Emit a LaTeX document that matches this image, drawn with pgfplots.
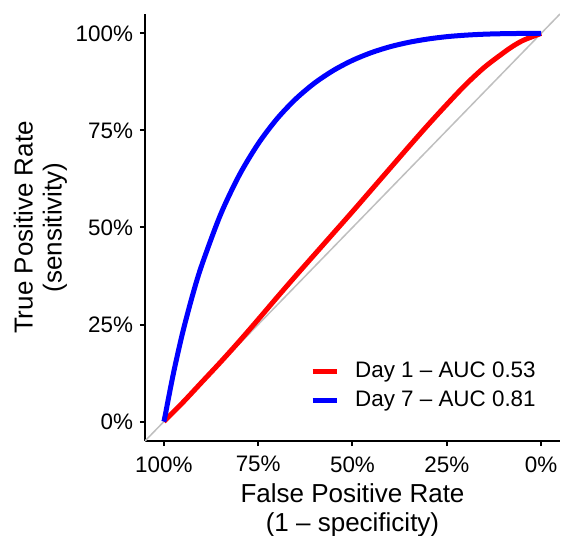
\documentclass[border=0pt]{standalone}
\usepackage{fontspec}
\setmainfont{Liberation Sans}
\usepackage{pgfplots}
\pgfplotsset{compat=1.18}
\begin{document}
\begin{tikzpicture}
\begin{axis}[
  name=ax,
  scale only axis, width=207.5bp, height=213.5bp,
  x dir=reverse,
  xmin=-0.05, xmax=1.05, ymin=-0.05, ymax=1.05,
  axis lines*=left,
  axis line style={black, line width=1bp, -},
  xtick={0,0.25,0.5,0.75,1}, xticklabels={0\%,25\%,50\%,75\%,100\%},
  ytick={0,0.25,0.5,0.75,1}, yticklabels={0\%,25\%,50\%,75\%,100\%},
  tick align=outside, major tick length=2.5bp,
  tick style={black, line width=1bp},
  ticklabel style={font=\fontsize{11.2bp}{13bp}\selectfont, inner sep=0pt, text=black},
  xticklabel style={yshift=-5bp},
  yticklabel style={xshift=-3.3bp},
  /pgf/number format/assume math mode=true,
  xlabel={False Positive Rate\\(1 – specificity)},
  ylabel={True Positive Rate\\(sensitivity)},
  label style={font=\fontsize{13bp}{14.5bp}\selectfont, inner sep=0pt, align=center},
  xlabel style={at={(axis description cs:0.5,-0.0984)}, anchor=north},
  ylabel style={at={(axis description cs:-0.187,0.5)}, anchor=south, rotate=0},
  legend style={draw=none, fill=none, at={(axis description cs:0.397,0.1905)}, anchor=north west,
    font=\fontsize{11.2bp}{13bp}\selectfont, row sep=3.5bp, inner sep=0pt,
    nodes={inner sep=0pt, text height=8.5bp, text depth=2.5bp}},
  legend cell align=left,
  legend image code/.code={\draw[#1, line width=2.5bp] (0bp,0bp) -- (12bp,0bp); \path (20bp,0bp);},
]
\addplot[forget plot, color=black!25, line width=0.75bp] coordinates {(1.05,-0.05) (-0.05,1.05)};
\addplot[red, line width=2.5bp, smooth] coordinates {
(1,0) (0.95,0.049) (0.9,0.101) (0.85,0.153) (0.8,0.207) (0.75,0.263) (0.7,0.32)
(0.65,0.376) (0.6,0.431) (0.55,0.486) (0.5,0.541) (0.45,0.597) (0.4,0.653) (0.35,0.709)
(0.3,0.764) (0.25,0.817) (0.2,0.868) (0.15,0.913) (0.1,0.95) (0.075,0.967)
(0.05,0.981) (0.025,0.991) (0,1)};
\addlegendentry{Day 1 – AUC 0.53}
\addplot[blue, line width=2.5bp, smooth] coordinates {
(1,0) (0.999,0.0036) (0.995,0.023) (0.99,0.0487) (0.98,0.0984) (0.97,0.1452)
(0.95,0.23) (0.925,0.3218) (0.9,0.4017) (0.85,0.5327) (0.8,0.635) (0.75,0.7157)
(0.7,0.7801) (0.65,0.8315) (0.6,0.8725) (0.55,0.905) (0.5,0.9306) (0.45,0.9505)
(0.4,0.9658) (0.35,0.9772) (0.3,0.9856) (0.25,0.9916) (0.2,0.9955) (0.15,0.998)
(0.1,0.9993) (0.05,0.9999) (0,1)};
\addlegendentry{Day 7 – AUC 0.81}
\end{axis}
\pgfresetboundingbox
\path (ax.south west) ++(-72.5bp,-47.5bp) rectangle ++(281bp,268bp);
\end{tikzpicture}
\end{document}
